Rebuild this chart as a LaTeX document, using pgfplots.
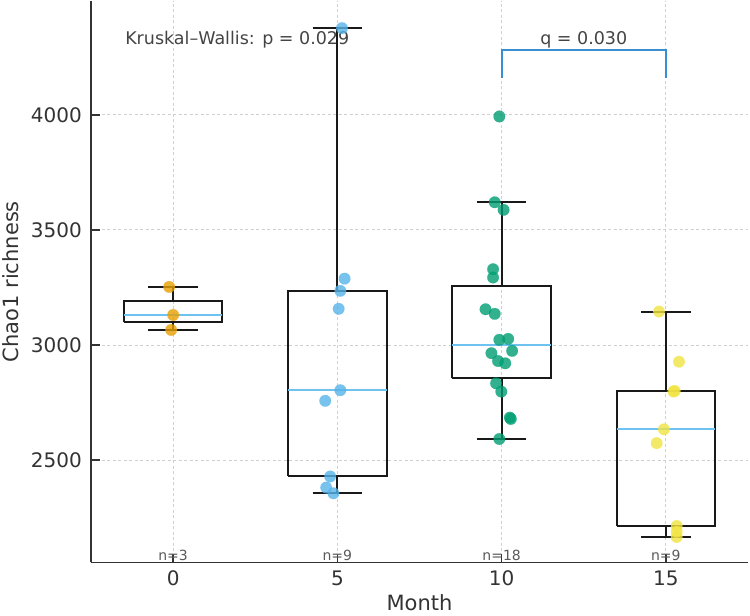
\documentclass[border=0pt]{standalone}
\usepackage{fontspec}
\setmainfont{DejaVu Sans}
\usepackage{pgfplots}
\pgfplotsset{compat=1.18}

\definecolor{mOrange}{HTML}{E69F00}
\definecolor{mSky}{HTML}{56B4E9}
\definecolor{mGreen}{HTML}{009E73}
\definecolor{mYellow}{HTML}{F0E442}
\definecolor{medianBlue}{HTML}{6EC2F0}
\definecolor{bracketBlue}{HTML}{3A8FD2}
\definecolor{spine}{HTML}{333333}
\definecolor{annot}{HTML}{444444}
\definecolor{ngray}{HTML}{5A5A5A}
\definecolor{gridgray}{HTML}{D0D0D0}

\pgfplotsset{
  boxline/.style={draw=black!90, line width=2pt, unbounded coords=jump, mark=none},
  medline/.style={draw=medianBlue, line width=2pt, mark=none},
  pts/.style={only marks, mark=*, mark size=5.8pt, color=#1,
    mark options={solid, draw=#1, fill=#1, line width=0.1pt,
      fill opacity=0.8, draw opacity=0.8}},
}
\tikzset{
  nlabel/.style={anchor=base, inner sep=0pt, yshift=2.3pt,
    font=\fontsize{14}{16}\selectfont, text=ngray},
  annot/.style={inner sep=0pt, font=\fontsize{17.5}{20}\selectfont, text=annot},
}

\begin{document}
\begin{tikzpicture}
\path[use as bounding box] (-91pt,-53.7pt) rectangle (659pt,562.3pt);
\begin{axis}[
  at={(0pt,0pt)}, anchor=south west,
  scale only axis, width=657pt, height=561.3pt,
  xmin=-2.5, xmax=17.5, ymin=2055, ymax=4495,
  axis x line*=bottom, axis y line*=left,
  axis line style={-, draw=spine, line width=1.6pt},
  xtick={0,5,10,15}, ytick={2500,3000,3500,4000},
  tick align=inside, major tick length=8.5pt,
  every tick/.style={draw=spine, line width=1.4pt},
  grid=major,
  major grid style={draw=gridgray, dash pattern=on 3pt off 2.5pt, line width=0.8pt},
  ticklabel style={font=\fontsize{20}{24}\selectfont, text=spine},
  /pgf/number format/assume math mode=true,
  /pgf/number format/1000 sep={},
  xticklabel style={anchor=base, inner sep=0pt, yshift=-23.4pt},
  yticklabel style={anchor=east, inner sep=0pt, xshift=-9pt},
  xlabel={Month}, ylabel={Chao1 richness},
  label style={font=\fontsize{21}{25}\selectfont, text=spine, inner sep=0pt, text depth=0pt},
  xlabel style={at={(axis description cs:0.5,-0.0860)}, anchor=base},
  ylabel style={at={(axis description cs:-0.1096,0.5)}, anchor=base},
  clip=false,
]

% boxes (Q1-Q3), whiskers and caps; whiskers reach the extreme points within 1.5 IQR
\addplot[boxline] coordinates {
  (-1.5,3097.5) (1.5,3097.5) (1.5,3191) (-1.5,3191) (-1.5,3097.5) (nan,nan)
  (0,3191) (0,3252) (nan,nan) (-0.75,3252) (0.75,3252) (nan,nan)
  (0,3097.5) (0,3065) (nan,nan) (-0.75,3065) (0.75,3065)};
\addplot[medline] coordinates {(-1.5,3130) (1.5,3130)};

\addplot[boxline] coordinates {
  (3.5,2428) (6.5,2428) (6.5,3235) (3.5,3235) (3.5,2428) (nan,nan)
  (5,3235) (5,4377) (nan,nan) (4.25,4377) (5.75,4377) (nan,nan)
  (5,2428) (5,2355) (nan,nan) (4.25,2355) (5.75,2355)};
\addplot[medline] coordinates {(3.5,2803) (6.5,2803)};

\addplot[boxline] coordinates {
  (8.5,2855) (11.5,2855) (11.5,3258) (8.5,3258) (8.5,2855) (nan,nan)
  (10,3258) (10,3620) (nan,nan) (9.25,3620) (10.75,3620) (nan,nan)
  (10,2855) (10,2591) (nan,nan) (9.25,2591) (10.75,2591)};
\addplot[medline] coordinates {(8.5,2998) (11.5,2998)};

\addplot[boxline] coordinates {
  (13.5,2213) (16.5,2213) (16.5,2800) (13.5,2800) (13.5,2213) (nan,nan)
  (15,2800) (15,3145) (nan,nan) (14.25,3145) (15.75,3145) (nan,nan)
  (15,2213) (15,2165) (nan,nan) (14.25,2165) (15.75,2165)};
\addplot[medline] coordinates {(13.5,2633) (16.5,2633)};

% samples, jittered along x
\addplot[pts=mOrange] coordinates {
  (-0.12,3252) (0.00,3130) (-0.06,3065)};
\addplot[pts=mSky] coordinates {
  (5.14,4377) (5.22,3288) (5.09,3235) (5.04,3157) (5.09,2803)
  (4.63,2757) (4.78,2428) (4.66,2380) (4.88,2355)};
\addplot[pts=mGreen] coordinates {
  (9.93,3993) (9.79,3620) (10.06,3587) (9.74,3329) (9.74,3293)
  (9.51,3155) (9.79,3135) (9.93,3022) (10.20,3026) (9.69,2964)
  (10.32,2974) (9.89,2930) (10.11,2920) (9.83,2833) (9.99,2797)
  (10.25,2684) (10.28,2678) (9.93,2591)};
\addplot[pts=mYellow] coordinates {
  (14.79,3145) (15.40,2927) (15.23,2797) (15.27,2800) (14.94,2633)
  (14.72,2573) (15.33,2213) (15.33,2188) (15.33,2165)};

% pairwise comparison bracket
\addplot[draw=bracketBlue, line width=1.8pt, mark=none] coordinates {
  (10,4162) (10,4283) (15,4283) (15,4162)};
\node[annot, anchor=base] at (axis cs:12.5,4304) {q = 0.030};

\node[annot, anchor=base west] at (axis cs:-1.463,4304) {Kruskal–Wallis: p = 0.029};

% group sizes
\node[nlabel] at (axis cs:0,2055) {n=3};
\node[nlabel] at (axis cs:5,2055) {n=9};
\node[nlabel] at (axis cs:10,2055) {n=18};
\node[nlabel] at (axis cs:15,2055) {n=9};
\end{axis}
\end{tikzpicture}
\end{document}
